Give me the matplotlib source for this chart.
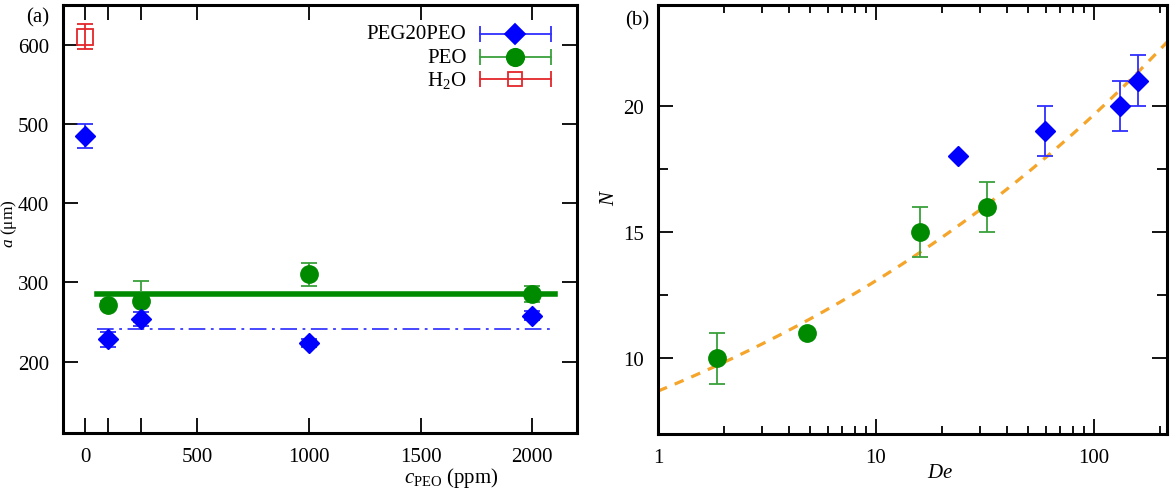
import numpy as np
import matplotlib
matplotlib.use("Agg")
import matplotlib.pyplot as plt
from matplotlib.ticker import FixedLocator, NullFormatter, FuncFormatter, LogLocator

plt.rcParams['font.family'] = ['Liberation Serif', 'DejaVu Serif']
plt.rcParams['mathtext.fontset'] = 'custom'
plt.rcParams['mathtext.rm'] = 'Liberation Serif'
plt.rcParams['mathtext.it'] = 'Liberation Serif:italic'
plt.rcParams['lines.scale_dashes'] = False

# ---------------- data: panel (a) ----------------
peg_c = [0, 100, 250, 1000, 2000]
peg_a = [485, 228, 254, 224, 258]
peg_err = [15, 9, 9, 5, 6]

peo_c = [100, 250, 1000, 2000]
peo_a = [271, 276, 310, 285]
peo_err = [5, 26, 15, 10]

h2o_c = [0]
h2o_a = [610]
h2o_err = [16]

peo_mean = 286
peg_mean = 241
mean_c_range = [50, 2100]

# ---------------- data: panel (b) ----------------
de_peo = [1.87, 4.82, 15.9, 32.3]
n_peo = [10, 11, 15, 16]
n_peo_err = [1, 0, 1, 1]

de_peg = [23.8, 59.6, 131.6, 159]
n_peg = [18, 19, 20, 21]
n_peg_err = [0, 1, 1, 1]

fit_A = 8.7
fit_b = 0.177

BLUE = '#0000ff'
BLUE_E = '#2f2fff'
GREEN = '#008a00'
GREEN_E = '#3aa03a'
RED = '#e3262a'
ORANGE = '#f5a52a'

FS = 15
W, H = 1173, 489
fig = plt.figure(figsize=(W / 100, H / 100), dpi=100)

def ax_rect(x0, x1, ytop, ybot):
    return [x0 / W, (H - ybot) / H, (x1 - x0) / W, (ybot - ytop) / H]

axa = fig.add_axes(ax_rect(63, 577, 6, 434))
axb = fig.add_axes(ax_rect(658, 1167, 6, 435))

for ax in (axa, axb):
    for s in ax.spines.values():
        s.set_linewidth(2.2)
    ax.tick_params(which='major', direction='in', length=11, width=1.3,
                   top=True, right=True, labelsize=FS, pad=10)
    ax.tick_params(which='minor', direction='in', length=6, width=1.3,
                   top=True, right=True)

# ---- panel (a) ----
ms_d = 10
ms_o = 12.5
axa.plot(mean_c_range, [peo_mean, peo_mean], color=GREEN, lw=4, zorder=2)
axa.plot(mean_c_range, [peg_mean, peg_mean], color='#4646ff', lw=1.4,
         dashes=(12, 4, 2, 4), zorder=2)

axa.errorbar(peg_c, peg_a, yerr=peg_err, fmt='D', color=BLUE, ecolor=BLUE_E,
             ms=ms_d, capsize=6, elinewidth=1.3, capthick=1.3, zorder=4)
axa.errorbar(peo_c, peo_a, yerr=peo_err, fmt='o', color=GREEN, ecolor=GREEN_E,
             ms=ms_o, capsize=6, elinewidth=1.3, capthick=1.3, zorder=3)
axa.errorbar(h2o_c, h2o_a, yerr=h2o_err, fmt='s', color=RED, mfc='none',
             mec=RED, ecolor=RED, ms=11, mew=1.3, capsize=6, elinewidth=1.3,
             capthick=1.3, zorder=3)

axa.set_xlim(-100, 2200)
axa.set_ylim(110, 650)
xt = [0, 100, 250, 500, 1000, 1500, 2000]
axa.xaxis.set_major_locator(FixedLocator(xt))
axa.set_xticklabels(['0', '', '', '500', '1000', '1500', '2000'])
axa.yaxis.set_major_locator(FixedLocator([200, 300, 400, 500, 600]))

# legend (gnuplot style, drawn in axes coordinates)
leg_rows = [('PEG20PEO', 'D', BLUE, BLUE, BLUE_E, ms_d),
            ('PEO', 'o', GREEN, GREEN, GREEN_E, ms_o),
            ('H$_2$O', 's', 'none', RED, RED, 11)]
leg_y = [0.933, 0.878, 0.826]
for (lab, mk, fc, mc, ec, ms), yy in zip(leg_rows, leg_y):
    axa.text(0.785, yy, lab, transform=axa.transAxes, ha='right', va='center',
             fontsize=FS)
    axa.plot([0.811, 0.949], [yy, yy], transform=axa.transAxes, color=ec,
             lw=1.3, clip_on=False)
    axa.plot([0.811, 0.949], [yy, yy], transform=axa.transAxes, ls='none',
             marker='|', ms=12, mew=1.3, color=ec, clip_on=False)
    axa.plot([0.880], [yy], transform=axa.transAxes, ls='none', marker=mk,
             ms=ms if mk != 's' else 10, mfc=fc, mec=mc, mew=1.3,
             clip_on=False)

# ---- panel (b) ----
de_fit = np.logspace(0, np.log10(216), 200)
axb.plot(de_fit, fit_A * de_fit ** fit_b, color=ORANGE, lw=2.3,
         dashes=(7, 6), zorder=2)
axb.errorbar(de_peo, n_peo, yerr=n_peo_err, fmt='o', color=GREEN,
             ecolor=GREEN_E, ms=ms_o, capsize=6, elinewidth=1.3, capthick=1.3,
             zorder=3)
axb.errorbar(de_peg, n_peg, yerr=n_peg_err, fmt='D', color=BLUE,
             ecolor=BLUE_E, ms=ms_d, capsize=6, elinewidth=1.3, capthick=1.3,
             zorder=3)
axb.set_xscale('log')
axb.set_xlim(1, 216)
axb.set_ylim(7, 24)
axb.xaxis.set_major_locator(FixedLocator([1, 10, 100]))
axb.xaxis.set_major_formatter(FuncFormatter(lambda v, p: f'{v:g}'))
axb.xaxis.set_minor_locator(LogLocator(base=10, subs=np.arange(2, 10)))
axb.xaxis.set_minor_formatter(NullFormatter())
axb.yaxis.set_major_locator(FixedLocator([10, 15, 20]))
axb.yaxis.set_minor_locator(FixedLocator([12.5, 17.5]))
axb.tick_params(axis='y', which='minor', length=7)

# labels
fig.text(38 / W, 1 - 18 / H, '(a)', ha='center', va='center', fontsize=FS)
fig.text(637 / W, 1 - 21 / H, '(b)', ha='center', va='center', fontsize=FS)
fig.text(9 / W, 1 - 224 / H, '$a$ (μm)', rotation=90, ha='center',
         va='center', fontsize=12.5)
fig.text(610 / W, 1 - 197 / H, '$N$', rotation=90, ha='center', va='center',
         fontsize=FS)
fig.text(451 / W, 1 - 478 / H, r'$c_{\mathrm{PEO}}$ (ppm)', ha='center',
         va='center', fontsize=FS)
fig.text(940 / W, 1 - 474 / H, '$De$', ha='center', va='center', fontsize=FS)

fig.savefig('out.png', dpi=100)
